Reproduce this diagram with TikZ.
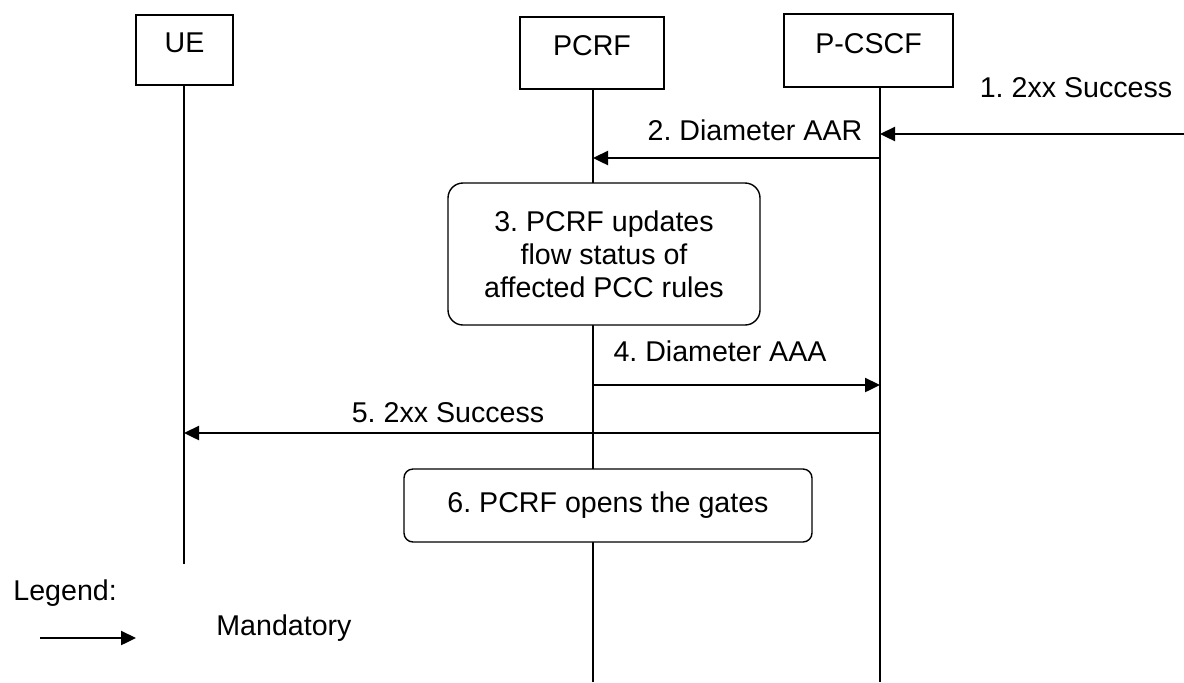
\documentclass[tikz,border=0pt]{standalone}
\usepackage{fontspec}
\setmainfont{Liberation Sans}
\usetikzlibrary{arrows.meta,positioning}
\frenchspacing
\tikzset{
  lbl/.style={font=\fontsize{14.3}{16.5}\selectfont,inner sep=0pt},
  ent/.style={draw,line width=0.7pt,lbl,text height=10.5pt,text depth=8pt,minimum height=36pt},
  proc/.style={draw,line width=0.7pt,lbl,fill=white,align=center},
  life/.style={line width=0.65pt},
  msg/.style={-{Triangle[length=7.5pt,width=7pt]},line width=1.2pt}
}
\begin{document}
\begin{tikzpicture}[x=0.5pt,y=-0.5pt]
\useasboundingbox (0,0) rectangle (1184,682);
% entities
\node[ent,minimum width=48.5pt,minimum height=35pt] (ue) at (184.5,50) {UE};
\node[ent,minimum width=72pt] (pcrf) at (592,53) {PCRF};
\node[ent,minimum width=84.5pt,minimum height=36.5pt] (pcscf) at (868.5,50.5) {P-CSCF};
% lifelines
\coordinate (ueEnd) at (184,564);
\coordinate (pcrfEnd) at (593,682);
\coordinate (pcscfTop) at (880,88);
\coordinate (pcscfEnd) at (880,682);
\draw[life] (ue.south -| ueEnd) -- (ueEnd);
\draw[life] (pcrf.south -| pcrfEnd) -- (pcrfEnd);
\draw[life] (pcscfTop) -- (pcscfEnd);
% 1
\coordinate (in1) at (1184,134);
\draw[msg] (in1) -- (in1 -| pcscfEnd);
\node[lbl] (m1) at (1076,88) {1. 2xx Success};
% 2
\draw[msg] (pcscfEnd |- 0,158) -- (pcrfEnd |- 0,158);
\node[lbl] (m2) at (755,130) {2. Diameter AAR};
% 3
\node[proc,minimum width=156pt,minimum height=71pt,rounded corners=7.5pt,
  font=\fontsize{14.3}{16.5}\selectfont] (upd) at (604,254)
  {3. PCRF updates\\flow status of\\affected PCC rules};
% 4
\draw[msg] (pcrfEnd |- 0,385) -- (pcscfEnd |- 0,385);
\node[lbl] (m4) at (720,351) {4. Diameter AAA};
% 5
\draw[msg] (pcscfEnd |- 0,433) -- (ueEnd |- 0,433);
\node[lbl] (m5) at (448,413) {5. 2xx Success};
% 6
\node[proc,minimum width=204pt,minimum height=36.5pt,rounded corners=4.5pt] (gates)
  at (608,505.5) {6. PCRF opens the gates};
% legend
\node[lbl,anchor=west] (leg) at (13,593) {Legend:};
\coordinate (legA) at (40,638);
\coordinate (legB) at (136,638);
\draw[msg] (legA) -- (legB);
\node[lbl,anchor=west] (mand) at (216,628) {Mandatory};
\end{tikzpicture}
\end{document}
